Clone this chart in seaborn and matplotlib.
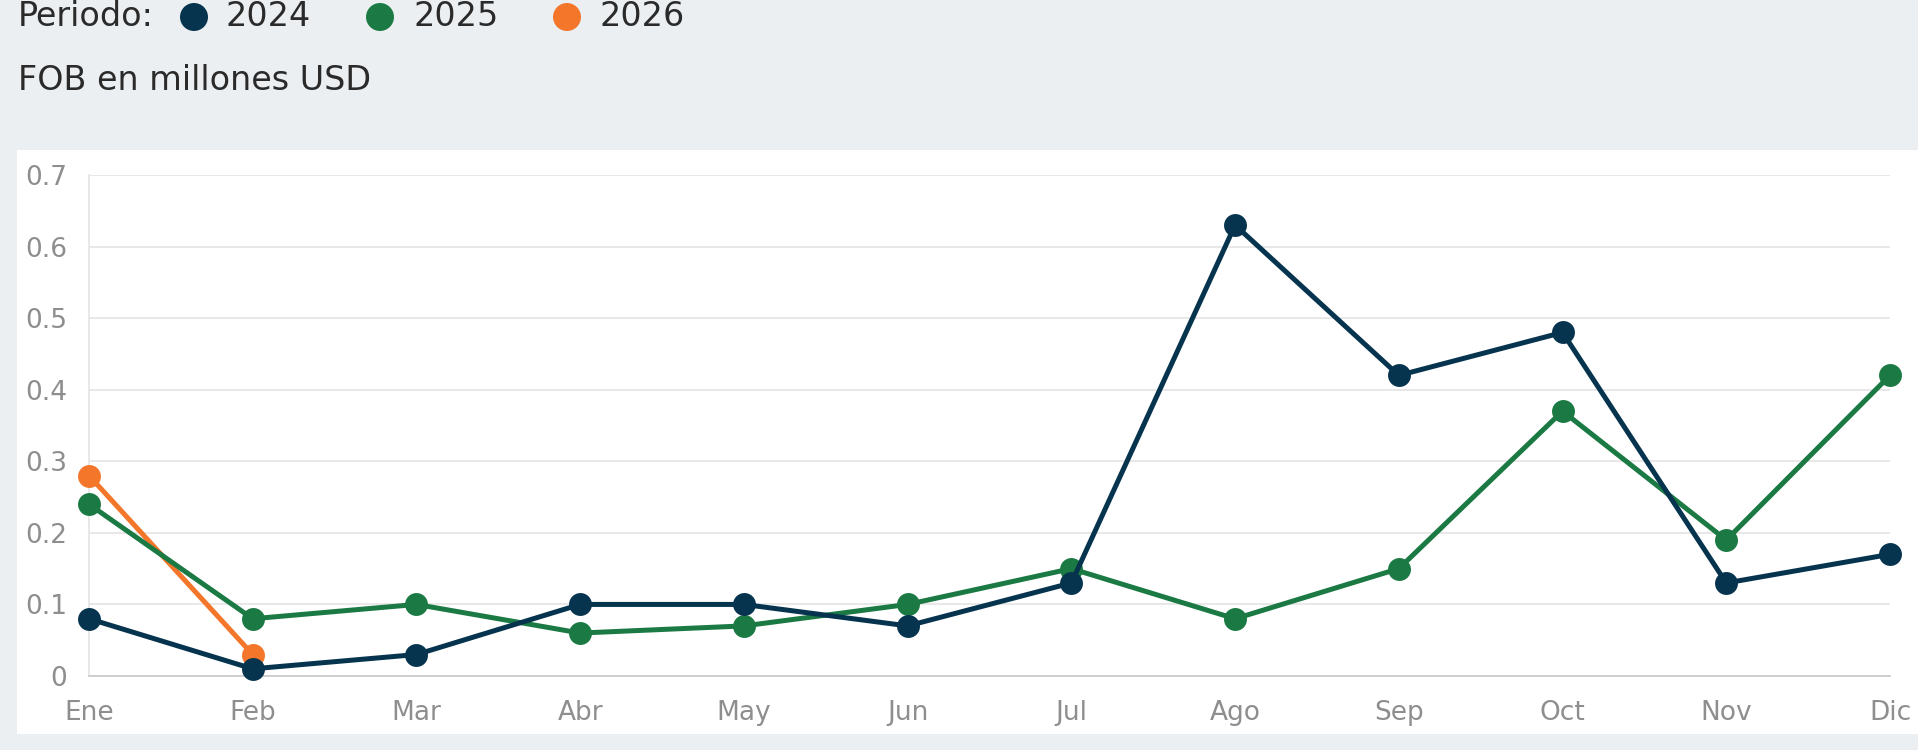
import numpy as np
import pandas as pd
import matplotlib
matplotlib.use("Agg")
import matplotlib.pyplot as plt
from matplotlib.patches import Rectangle, Ellipse
import seaborn as sns

months = ["Ene", "Feb", "Mar", "Abr", "May", "Jun", "Jul", "Ago", "Sep", "Oct", "Nov", "Dic"]
v2024 = [0.08, 0.01, 0.03, 0.10, 0.10, 0.07, 0.13, 0.63, 0.42, 0.48, 0.13, 0.17]
v2025 = [0.24, 0.08, 0.10, 0.06, 0.07, 0.10, 0.15, 0.08, 0.15, 0.37, 0.19, 0.42]
v2026 = [0.28, 0.03]
years = ["2024", "2025", "2026"]
colors = {"2024": "#06344F", "2025": "#1B7A43", "2026": "#F3762A"}
yticks = [0, 0.1, 0.2, 0.3, 0.4, 0.5, 0.6, 0.7]
ytick_labels = ["0", "0.1", "0.2", "0.3", "0.4", "0.5", "0.6", "0.7"]

sns.set_theme(style="white")
plt.rcParams["font.family"] = ["DejaVu Sans"]

rows = []
for yr, vals in zip(years, [v2024, v2025, v2026]):
    for i, v in enumerate(vals):
        rows.append({"year": yr, "idx": i, "val": v})
df = pd.DataFrame(rows)

W, H = 1918, 750
fig = plt.figure(figsize=(W / 100, H / 100), dpi=100)
fig.patch.set_facecolor("#EBEFF2")
fig.add_artist(Rectangle((17 / W, 1 - 734 / H), 1 - 17 / W, (734 - 150) / H,
                         transform=fig.transFigure, facecolor="white", edgecolor="none", zorder=0))

ax = fig.add_axes([89 / W, 1 - 676 / H, (1890 - 89) / W, (676 - 175) / H])
ax.set_facecolor("none")

for z, yr in zip([3, 2, 1], ["2024", "2025", "2026"]):
    sub = df[df["year"] == yr]
    sns.lineplot(data=sub, x="idx", y="val", color=colors[yr], linewidth=3.6,
                 marker="o", markersize=16.5, markeredgewidth=0, ax=ax,
                 legend=False, zorder=z + 2, clip_on=False)

ax.set_xlim(0, 11)
ax.set_ylim(0, 0.7)
ax.set_xticks(range(12))
ax.set_xticklabels(months)
ax.set_yticks(yticks)
ax.set_yticklabels(ytick_labels)
ax.set_xlabel("")
ax.set_ylabel("")
ax.grid(axis="y", color="#E6E6E6", linewidth=1.3)
ax.set_axisbelow(True)
for s in ["top", "right"]:
    ax.spines[s].set_visible(False)
ax.spines["left"].set_color("#E6E6E6")
ax.spines["left"].set_linewidth(1.3)
ax.spines["bottom"].set_color("#CCCCCC")
ax.spines["bottom"].set_linewidth(1.3)
ax.tick_params(axis="y", length=9, color="#E6E6E6", width=1.3, pad=7,
               labelsize=19, labelcolor="#8E8E8E")
ax.tick_params(axis="x", length=0, pad=17, labelsize=19, labelcolor="#8E8E8E")

# legend header
fy = 1 - 17 / H
fig.text(18 / W, fy, "Periodo:", fontsize=24, color="#2A2A2A", va="center", ha="left")
for yr, mx, tx in zip(years, [194, 380, 567], [225, 413, 600]):
    fig.add_artist(Ellipse((mx / W, fy), 28 / W, 28 / H, transform=fig.transFigure,
                           facecolor=colors[yr], edgecolor="none"))
    fig.text(tx / W, fy, yr, fontsize=24, color="#2A2A2A", va="center", ha="left")
fig.text(18 / W, 1 - 81 / H, "FOB en millones USD", fontsize=24, color="#2A2A2A",
         va="center", ha="left")

fig.savefig("out.png", dpi=100, facecolor=fig.get_facecolor())
